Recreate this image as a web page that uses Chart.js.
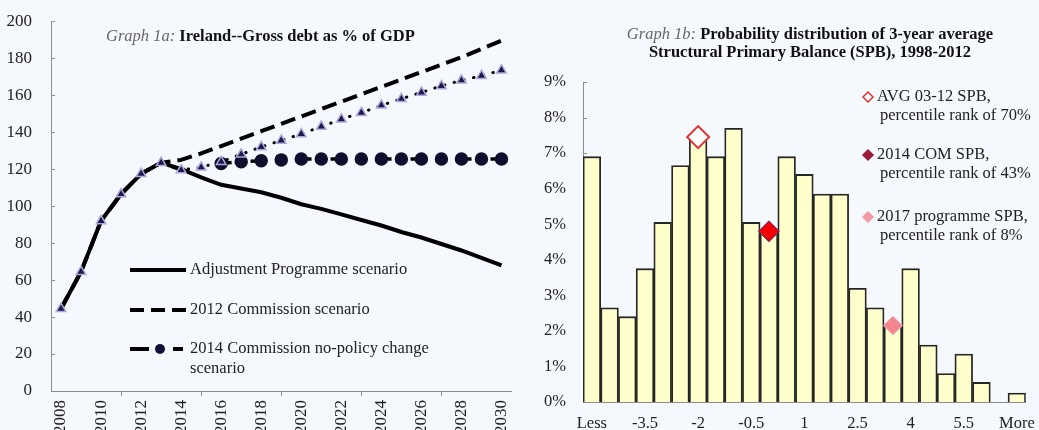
<!DOCTYPE html>
<html>
<head>
<meta charset="utf-8">
<script src="https://cdn.jsdelivr.net/npm/chart.js@4.4.1/dist/chart.umd.min.js"></script>
<style>
  html, body { margin: 0; padding: 0; background: #f5f8fc; overflow: hidden; }
  #debtBox { position: absolute; left: 0; top: 0; width: 520px; height: 430px; }
  #spbBox { position: absolute; left: 520px; top: 0; width: 519px; height: 430px; }
</style>
</head>
<body>
<div id="debtBox"><canvas id="debtChart"></canvas></div>
<div id="spbBox"><canvas id="spbChart"></canvas></div>

<script>
// --- Graph 1a data: gross debt, % of GDP ---
const years = ['2008', '2009', '2010', '2011', '2012', '2013', '2014', '2015', '2016', '2017', '2018', '2019',
               '2020', '2021', '2022', '2023', '2024', '2025', '2026', '2027', '2028', '2029', '2030'];
const adjustmentProgramme = [44.5, 64.5, 92, 106.5, 117.5, 123.5, 120, 115.5, 111.5, 109.5, 107.5, 104.5,
                             101, 98.5, 95.5, 92.5, 89.5, 86, 83, 79.5, 76, 72, 68];
const commission2012 = [44.5, 64.5, 92, 106.5, 117.5, 123.5, 125, 128.5, 132.5, 136.5, 140.5, 144.5,
                        148.5, 152.5, 156.5, 160.5, 164.5, 168.5, 172.5, 176.5, 180.5, 185, 189.5];
const commission2014 = [44.5, 64.5, 92, 106.5, 117.5, 123.5, 119.5, 121, 123, 124, 124.5, 125,
                        125.5, 125.5, 125.5, 125.5, 125.5, 125.5, 125.5, 125.5, 125.5, 125.5, 125.5];
const triangleSeries = [44.5, 64.5, 92, 106.5, 117.5, 123.5, 119.5, 121, 124, 128, 132, 135.5,
                        139, 143, 147, 150.5, 154.5, 158, 161.5, 165, 168, 170.5, 173.5];
const debtTicks = [0, 20, 40, 60, 80, 100, 120, 140, 160, 180, 200];

// --- Graph 1b data: distribution of 3-year average SPB ---
const binLabels = ['Less', '-4.5', '-4', '-3.5', '-3', '-2.5', '-2', '-1.5', '-1', '-0.5', '0', '0.5', '1',
                   '1.5', '2', '2.5', '3', '3.5', '4', '4.5', '5', '5.5', '6', '6.5', 'More'];
const frequency = [6.9, 2.65, 2.4, 3.75, 5.05, 6.65, 7.4, 6.9, 7.7, 5.05, 4.8, 6.9, 6.4,
                   5.85, 5.85, 3.2, 2.65, 2.15, 3.75, 1.6, 0.8, 1.35, 0.55, 0, 0.25];
const avgSpb = [{ x: '-2', y: 7.45 }];
const comSpb2014 = [{ x: '0', y: 4.8 }];
const programmeSpb2017 = [{ x: '3.5', y: 2.15 }];

const serif = "'Liberation Serif', 'Times New Roman', serif";
Chart.defaults.font.family = serif;
Chart.defaults.font.size = 16;
Chart.defaults.color = '#222';

// draws a sequence of differently styled text pieces on one line
function drawRuns(ctx, runs, x, y) {
  runs.forEach(r => {
    ctx.font = r.font;
    ctx.fillStyle = r.color;
    ctx.fillText(r.text, x, y);
    x += ctx.measureText(r.text).width;
  });
}
function runsWidth(ctx, runs) {
  let w = 0;
  runs.forEach(r => { ctx.font = r.font; w += ctx.measureText(r.text).width; });
  return w;
}

const italic = 'italic 16.5px ' + serif;
const bold = 'bold 16.5px ' + serif;
const plain = '16.5px ' + serif;

// short tick marks pointing into the plot on the value axis
const innerTicks = {
  id: 'innerTicks',
  beforeDatasetsDraw(chart) {
    const s = chart.scales.y;
    const ctx = chart.ctx;
    ctx.save();
    ctx.strokeStyle = '#8c8c8c';
    ctx.lineWidth = 1;
    s.ticks.forEach(t => {
      const py = Math.round(s.getPixelForValue(t.value)) + 0.5;
      ctx.beginPath();
      ctx.moveTo(s.right, py);
      ctx.lineTo(s.right + 4, py);
      ctx.stroke();
    });
    ctx.restore();
  }
};

// title and legend for graph 1a
const debtDecor = {
  id: 'debtDecor',
  afterDraw(chart) {
    const ctx = chart.ctx;
    ctx.save();
    ctx.textBaseline = 'middle';
    drawRuns(ctx, [
      { text: 'Graph 1a: ', font: italic, color: '#666' },
      { text: 'Ireland--Gross debt as % of GDP', font: bold, color: '#111' }
    ], 106, 37);

    const x0 = 130, x1 = 186, tx = 190;
    const rows = [
      { y: 270, dash: [], lines: ['Adjustment Programme scenario'] },
      { y: 310, dash: [14, 7], lines: ['2012 Commission scenario'] },
      { y: 349, dash: [19, 9, 0, 0, 0, 15, 10, 10], dot: true, lines: ['2014 Commission no-policy change', 'scenario'] }
    ];
    rows.forEach(r => {
      ctx.strokeStyle = '#000';
      ctx.lineWidth = 4;
      ctx.setLineDash(r.dash);
      ctx.beginPath();
      ctx.moveTo(x0, r.y);
      ctx.lineTo(x1, r.y);
      ctx.stroke();
      ctx.setLineDash([]);
      if (r.dot) {
        ctx.fillStyle = '#10103a';
        ctx.beginPath();
        ctx.arc(160, r.y, 5, 0, Math.PI * 2);
        ctx.fill();
      }
      ctx.font = plain;
      ctx.fillStyle = '#222';
      r.lines.forEach((line, i) => ctx.fillText(line, tx, r.y + i * 20));
    });
    ctx.restore();
  }
};

// titles and marker legend for graph 1b
const spbDecor = {
  id: 'spbDecor',
  afterDraw(chart) {
    const ctx = chart.ctx;
    ctx.save();
    ctx.textBaseline = 'middle';
    const line1 = [
      { text: 'Graph 1b: ', font: italic, color: '#666' },
      { text: 'Probability distribution of 3-year average', font: bold, color: '#111' }
    ];
    const line2 = [{ text: 'Structural Primary Balance (SPB), 1998-2012', font: bold, color: '#111' }];
    drawRuns(ctx, line1, 290 - runsWidth(ctx, line1) / 2, 35);
    drawRuns(ctx, line2, 290 - runsWidth(ctx, line2) / 2, 53);

    const items = [
      { y: 97, fill: '#fff', stroke: '#e03030', lines: ['AVG 03-12 SPB,', 'percentile rank of 70%'] },
      { y: 155, fill: '#9c1a3c', stroke: '#9c1a3c', lines: ['2014 COM SPB,', 'percentile rank of 43%'] },
      { y: 217, fill: '#f29aa6', stroke: '#f29aa6', lines: ['2017 programme SPB,', 'percentile rank of 8%'] }
    ];
    items.forEach(it => {
      const cx = 348, r = 5;
      ctx.beginPath();
      ctx.moveTo(cx - r, it.y);
      ctx.lineTo(cx, it.y - r);
      ctx.lineTo(cx + r, it.y);
      ctx.lineTo(cx, it.y + r);
      ctx.closePath();
      ctx.fillStyle = it.fill;
      ctx.fill();
      ctx.strokeStyle = it.stroke;
      ctx.lineWidth = 1.5;
      ctx.stroke();
      ctx.font = plain;
      ctx.fillStyle = '#222';
      ctx.fillText(it.lines[0], 357, it.y);
      ctx.fillText(it.lines[1], 360, it.y + 19);
    });
    ctx.restore();
  }
};

new Chart(document.getElementById('debtChart'), {
  type: 'line',
  data: {
    labels: years,
    datasets: [
      {
        label: 'triangles',
        data: triangleSeries,
        borderColor: '#000',
        borderWidth: 3,
        borderDash: [0.5, 9.5],
        borderCapStyle: 'round',
        pointStyle: 'triangle',
        pointRadius: 5.5,
        pointBackgroundColor: '#1c1a4a',
        pointBorderColor: '#aea8dc',
        pointBorderWidth: 1.5,
        order: 0
      },
      {
        label: '2014 Commission no-policy change scenario',
        data: commission2014,
        borderColor: '#000',
        borderWidth: 3.5,
        borderDash: [14, 8, 3, 8, 14, 33],
        pointStyle: 'circle',
        pointRadius: ctx => ctx.dataIndex >= 8 ? 5 : 0,
        pointBackgroundColor: '#0e0e2e',
        pointBorderColor: '#0e0e2e',
        order: 1
      },
      {
        label: 'Adjustment Programme scenario',
        data: adjustmentProgramme,
        borderColor: '#000',
        borderWidth: 4,
        pointRadius: 0,
        order: 2
      },
      {
        label: '2012 Commission scenario',
        data: commission2012,
        borderColor: '#000',
        borderWidth: 4,
        borderDash: [15, 7],
        pointRadius: 0,
        order: 3
      }
    ]
  },
  options: {
    responsive: true,
    maintainAspectRatio: false,
    animation: false,
    layout: { padding: { top: 21, right: 4, left: 0, bottom: 0 } },
    plugins: { legend: { display: false }, tooltip: { enabled: false } },
    scales: {
      x: {
        offset: true,
        afterFit: scale => {
          scale.height = 39;
          scale.paddingLeft = 0;
          scale.paddingRight = 0;
        },
        grid: {
          offset: true,
          drawOnChartArea: false,
          tickLength: 5,
          color: c => (c.index % 2 === 0 ? '#8c8c8c' : 'rgba(0,0,0,0)')
        },
        border: { display: true, color: '#8c8c8c' },
        ticks: {
          autoSkip: false,
          minRotation: 90,
          maxRotation: 90,
          padding: 4,
          font: { size: 17 },
          callback: (v, i) => (i % 2 === 0 ? years[i] : null)
        }
      },
      y: {
        min: 0,
        max: 200,
        afterFit: scale => { scale.width = 51; },
        afterBuildTicks: scale => { scale.ticks = debtTicks.map(v => ({ value: v })); },
        grid: { display: false },
        border: { display: true, color: '#8c8c8c' },
        ticks: { padding: 11, font: { size: 17 } }
      }
    }
  },
  plugins: [innerTicks, debtDecor]
});

new Chart(document.getElementById('spbChart'), {
  type: 'bar',
  data: {
    labels: binLabels,
    datasets: [
      {
        type: 'line',
        label: 'AVG 03-12 SPB',
        data: avgSpb,
        showLine: false,
        pointStyle: 'rectRot',
        pointRadius: 11,
        pointBackgroundColor: '#fff',
        pointBorderColor: '#e03030',
        pointBorderWidth: 2,
        order: 0
      },
      {
        type: 'line',
        label: '2014 COM SPB',
        data: comSpb2014,
        showLine: false,
        pointStyle: 'rectRot',
        pointRadius: 10.5,
        pointBackgroundColor: '#f00000',
        pointBorderColor: '#4a3a8a',
        pointBorderWidth: 1,
        order: 0
      },
      {
        type: 'line',
        label: '2017 programme SPB',
        data: programmeSpb2017,
        showLine: false,
        pointStyle: 'rectRot',
        pointRadius: 9.5,
        pointBackgroundColor: '#f4868f',
        pointBorderColor: '#f6b4c2',
        pointBorderWidth: 1,
        order: 0
      },
      {
        label: 'Frequency',
        data: frequency,
        backgroundColor: '#ffffcc',
        borderColor: '#262626',
        borderWidth: 1.8,
        barPercentage: 1,
        categoryPercentage: 1,
        order: 1
      }
    ]
  },
  options: {
    responsive: true,
    maintainAspectRatio: false,
    animation: false,
    layout: { padding: { top: 82, right: 9, left: 0, bottom: 0 } },
    plugins: { legend: { display: false }, tooltip: { enabled: false } },
    scales: {
      x: {
        afterFit: scale => { scale.height = 28; },
        grid: { display: false },
        border: { display: true, color: '#8c8c8c' },
        ticks: {
          autoSkip: false,
          maxRotation: 0,
          padding: 4,
          font: { size: 16.5 },
          callback: (v, i) => (i % 3 === 0 ? binLabels[i] : null)
        }
      },
      y: {
        min: 0,
        max: 9,
        afterFit: scale => { scale.width = 63; },
        grid: { display: false },
        border: { display: true, color: '#8c8c8c' },
        ticks: { stepSize: 1, padding: 9, font: { size: 16.5 }, callback: v => v + '%' }
      }
    }
  },
  plugins: [innerTicks, spbDecor]
});
</script>
</body>
</html>
